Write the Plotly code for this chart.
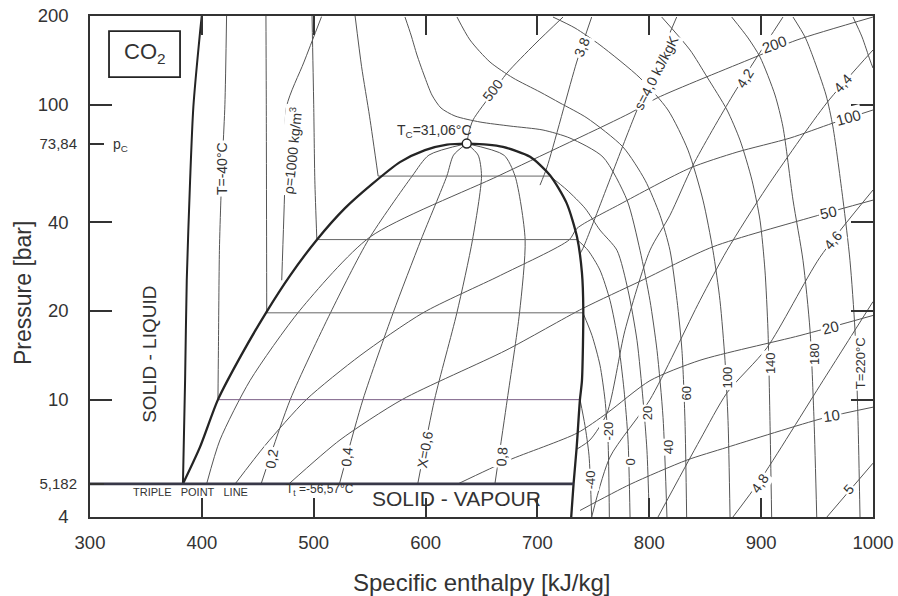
import numpy as np
import plotly.graph_objects as go

# ---------------- saturation dome, melting line, triple line ----------------
liq_h = [383.1, 398.3, 414.4, 435.0, 458.0, 479.0, 502.7, 528.0, 552.1, 577.1, 599.5, 619.2, 636.8]
liq_p = [5.182, 6.9, 10.0, 14.1, 19.9, 26.4, 34.8, 44.6, 53.8, 63.9, 70.2, 73.3, 73.84]
vap_h = [636.8, 654.9, 669.2, 693.4, 711.2, 726.1, 735.4, 739.8, 741.0, 739.8, 738.0, 735.1, 732.3, 730.2]
vap_p = [73.84, 73.3, 72.0, 66.6, 57.7, 46.4, 35.6, 26.9, 20.3, 11.6, 10.0, 6.9, 5.182, 4.0]
melt_h = [383.1, 385.0, 386.5, 389.5, 392.4, 398.3, 399.9]
melt_p = [5.182, 11.6, 25.4, 55.5, 98.4, 175.0, 200.0]
triple_h = [300.0, 732.3]
triple_p = 5.182
crit_h, crit_p = 636.8, 73.84

# two-phase isobars (saturation at -40, -20, 0, 20 °C)
isobar_p = [10.0, 19.7, 34.9, 57.3]
isobar_hl = [414.4, 458.0, 502.8, 557.6]
isobar_hv = [738.0, 741.0, 735.4, 711.0]

# vapour quality lines
quality_p = [5.182, 10.0, 19.7, 34.9, 57.3, 67.5, 73.84]
x02_h = [453, 479, 515, 549, 588, 603, 636.8]
x04_h = [523, 544, 571, 596, 619, 625, 636.8]
x06_h = [593, 608, 628, 642, 650, 647, 636.8]
x08_h = [662, 673, 684, 689, 680, 670, 636.8]

# ---------------- isotherms ----------------
tl40_h = [414.4, 414.8, 415.7, 417.0, 418.8, 420.6, 422.1]
tl40_p = [10.0, 14.7, 32.1, 47.5, 70.2, 100.0, 200.0]
tl20_h = [458.0, 457.6, 457.3]
tl20_p = [19.7, 100.0, 200.0]
tl0_h = [502.8, 501.0, 500.0, 498.5]
tl0_p = [34.9, 55.5, 100.0, 200.0]
t20l_h = [557.6, 550.0, 542.8, 537.0]
t20l_p = [57.3, 91.0, 134.6, 200.0]

tv40_h = [738.1, 742.5, 746.1, 748.5]
tv40_p = [10.0, 8.17, 6.48, 4.0]
tv20_h = [740.7, 748.8, 755.9, 760.4, 763.1, 764.3]
tv20_p = [19.7, 16.5, 13.1, 10.0, 7.3, 4.0]
tv0_h = [735.4, 745.2, 755.9, 764.9, 772.0, 777.4, 781.0, 782.8]
tv0_p = [34.9, 32.1, 27.5, 21.7, 15.9, 10.8, 7.3, 4.0]
t20v_h = [711.2, 726.4, 742.5, 755.9, 771.1, 781.0, 789.0, 794.4, 797.9, 800.0]
t20v_p = [57.3, 51.4, 44.6, 37.6, 32.1, 23.5, 15.9, 10.0, 6.74, 4.0]
t40_h = [581.6, 587.0, 592.3, 598.6, 605.7, 613.8, 626.3, 648.7, 675.5, 705.0, 729.1, 758.6, 780.1, 791.7, 800.6, 806.9, 812.3, 815.8]
t40_p = [198.4, 172.4, 147.5, 126.2, 107.9, 97.5, 91.6, 87.4, 84.7, 82.1, 77.1, 66.5, 47.5, 32.1, 21.7, 14.7, 8.7, 4.0]
t60_h = [628.1, 639.7, 657.6, 678.2, 702.3, 720.2, 744.3, 776.5, 796.2, 809.6, 818.5, 824.8, 829.2, 831.9, 833.4]
t60_p = [198.4, 165.9, 139.6, 123.3, 110.5, 101.4, 90.2, 71.9, 55.5, 42.2, 32.1, 21.7, 14.7, 8.5, 4.0]
t100_h = [713.9, 733.6, 755.9, 791.7, 816.7, 834.6, 848.0, 856.9, 863.2, 867.7, 870.4, 872.2]
t100_p = [198.4, 182.1, 159.5, 123.3, 96.0, 70.2, 47.5, 32.1, 21.7, 13.6, 8.5, 4.0]
t140_h = [811.1, 836.4, 851.6, 869.5, 881.1, 891.8, 899.0, 903.4, 906.1, 907.9, 909.4]
t140_p = [198.4, 153.4, 124.3, 96.0, 75.9, 55.5, 40.6, 27.5, 17.2, 8.5, 4.0]
t180_h = [873.7, 888.3, 899.0, 912.4, 919.5, 928.5, 937.4, 943.7, 947.3, 949.7]
t180_p = [198.4, 168.5, 145.2, 107.9, 84.1, 47.5, 29.7, 17.2, 8.5, 4.0]
t220_h = [928.5, 939.2, 946.4, 958.0, 964.2, 973.2, 979.4, 983.9, 986.6, 988.4]
t220_p = [198.4, 169.8, 145.2, 107.9, 84.1, 47.5, 29.7, 17.2, 8.5, 4.0]
t260_h = [982.1, 990.2, 997.3, 1000.0]
t260_p = [198.4, 169.8, 141.8, 133.2]

# ---------------- isochores ----------------
d1000_h = [471.4, 474.3, 475.8, 491.3, 507.0]
d1000_p = [25.4, 55.5, 98.8, 139.6, 199.0]
d500_h = [636.8, 638.8, 642.4, 660.3, 672.8, 697.8, 722.9]
d500_p = [73.84, 80.7, 88.8, 110.4, 128.1, 160.7, 198.4]
d200_h = [1000.0, 932.1, 892.7, 806.9, 782.8, 666.5, 550.3, 487.7, 443.0, 416.2, 404.3]
d200_p = [198.4, 165.9, 144.1, 105.4, 93.7, 57.7, 35.6, 20.1, 11.6, 7.3, 5.182]
d100_h = [1000.0, 964.2, 925.8, 878.4, 836.4, 773.8, 735.4, 728.3, 667.0, 597.7, 541.4, 493.3, 456.6, 429.8]
d100_p = [96.0, 86.7, 77.1, 69.1, 61.0, 46.0, 38.1, 34.8, 26.4, 19.7, 14.1, 10.0, 7.0, 5.182]
d50_h = [1000.0, 946.4, 857.0, 791.7, 740.7, 671.9, 578.9, 523.5, 477.9]
d50_p = [47.5, 41.7, 33.0, 25.2, 20.4, 14.7, 10.0, 7.3, 5.182]
d20_h = [1000.0, 934.7, 845.3, 800.6, 762.2, 735.4, 674.2, 629.0]
d20_p = [19.3, 16.5, 13.6, 11.6, 9.0, 7.7, 6.23, 5.182]
d10_h = [1000.0, 955.3, 869.5, 833.7, 782.8, 738.1]
d10_p = [9.43, 8.65, 6.89, 6.24, 5.16, 4.21]

# ---------------- isentropes (superheated region) ----------------
s38_h = [748.5, 735.1, 708.6, 702.3]
s38_p = [198.4, 139.6, 61.5, 53.4]
s40_h = [824.5, 787.2, 740.7, 737.5]
s40_p = [198.4, 92.3, 32.6, 31.0]
s42_h = [919.5, 874.8, 839.1, 818.5, 800.6, 778.3, 762.2, 747.0, 735.4]
s42_p = [198.4, 107.9, 62.4, 42.2, 32.1, 17.2, 9.0, 7.3, 6.8]
s44_h = [1000.0, 958.6, 905.2, 869.5, 845.3, 800.6, 764.9, 748.5]
s44_p = [153.4, 101.4, 52.6, 32.1, 21.7, 10.0, 6.39, 4.0]
s46_h = [1000.0, 952.6, 905.2, 869.5, 845.3, 807.8]
s46_p = [51.4, 30.4, 15.0, 10.55, 7.3, 4.0]
s48_h = [1000.0, 955.3, 899.0, 874.8]
s48_p = [21.5, 11.6, 5.33, 4.0]
s50_h = [1000.0, 958.8]
s50_p = [6.09, 4.0]

# ---------------- axis ticks ----------------
x_ticks = [300, 400, 500, 600, 700, 800, 900, 1000]
y_ticks = [4, 10, 20, 40, 100, 200]
y_ticks_small = [5.182, 73.84]
y_ticks_small_text = ["5,182", "73,84"]
y_ticks_right = [10, 20, 40, 100]

THIN = "#555555"
DARK = "#242424"
FONT = "Liberation Sans, Arial, sans-serif"
TXT = "#333333"

fig = go.Figure()


def curve(h, p, color=THIN, width=1.0, smooth=True):
    shape = "spline" if (smooth and len(h) > 2) else "linear"
    fig.add_trace(go.Scatter(x=h, y=p, mode="lines",
                             line=dict(color=color, width=width, shape=shape, smoothing=0.7),
                             hoverinfo="skip", showlegend=False))


# property line families
for h, p in [(tl40_h, tl40_p), (tl20_h, tl20_p), (tl0_h, tl0_p), (t20l_h, t20l_p),
             (tv40_h, tv40_p), (tv20_h, tv20_p), (tv0_h, tv0_p), (t20v_h, t20v_p),
             (t40_h, t40_p), (t60_h, t60_p), (t100_h, t100_p), (t140_h, t140_p),
             (t180_h, t180_p), (t220_h, t220_p), (t260_h, t260_p)]:
    curve(h, p)
for h, p in [(d1000_h, d1000_p), (d500_h, d500_p), (d200_h, d200_p), (d100_h, d100_p),
             (d50_h, d50_p), (d20_h, d20_p), (d10_h, d10_p)]:
    curve(h, p)
for h, p in [(s38_h, s38_p), (s40_h, s40_p), (s42_h, s42_p), (s44_h, s44_p),
             (s46_h, s46_p), (s48_h, s48_p), (s50_h, s50_p)]:
    curve(h, p)
for xh in (x02_h, x04_h, x06_h, x08_h):
    curve(xh, quality_p)
for pb, hl, hv in zip(isobar_p, isobar_hl, isobar_hv):
    curve([hl, hv], [pb, pb], color="#7b5f86" if pb == 10.0 else "#666666", width=1.0)

# dome, melting line, triple line
curve(liq_h, liq_p, DARK, 2.3)
curve(vap_h, vap_p, DARK, 2.3)
curve(melt_h, melt_p, DARK, 2.0)
curve(triple_h, [triple_p, triple_p], "#383848", 2.8)

# critical point
fig.add_trace(go.Scatter(x=[crit_h], y=[crit_p], mode="markers",
                         marker=dict(color="white", size=9, line=dict(color=DARK, width=1.5)),
                         hoverinfo="skip", showlegend=False))

# carriers for the extra y axes
fig.add_trace(go.Scatter(x=[300], y=[10], yaxis="y2", mode="markers", marker=dict(opacity=0),
                         hoverinfo="skip", showlegend=False))
fig.add_trace(go.Scatter(x=[300], y=[10], yaxis="y3", mode="markers", marker=dict(opacity=0),
                         hoverinfo="skip", showlegend=False))


def label(text, h, p, angle=0, size=14, bg=True):
    fig.add_annotation(x=h, y=np.log10(p), xref="x", yref="y", text=text, showarrow=False,
                       textangle=angle, font=dict(family=FONT, size=size, color=TXT),
                       bgcolor="white" if bg else None, borderpad=1)


# curve labels
label("T=-40°C", 418.0, 61.0, -90, 14)
label("ρ=1000 kg/m<sup>3</sup>", 480.6, 70.2, -84, 14)
label("T<sub>C</sub>=31,06°C", 608.4, 81.5, 0, 14, bg=False)
label("500", 660.3, 112.2, -52, 14)
label("3,8", 739.8, 157.0, -68, 14)
label("s=4,0 kJ/kgK", 806.0, 128.1, -63, 14)
label("4,2", 885.6, 123.3, -58, 14)
label("4,4", 973.2, 118.5, -48, 14)
label("4,6", 964.2, 34.8, -50, 14)
label("4,8", 899.0, 5.21, -55, 14)
label("5", 978.5, 4.96, -48, 14)
label("200", 911.5, 159.5, -20, 15)
label("100", 977.7, 90.2, -15, 15)
label("50", 959.8, 43.2, -12, 15)
label("20", 961.6, 17.6, -14, 15)
label("10", 963.3, 8.85, -8, 15)
for txt, h, p in [("-40", 747.0, 5.33), ("-20", 763.1, 7.8), ("0", 782.8, 6.13), ("20", 798.0, 9.0),
                  ("40", 816.7, 6.9), ("60", 832.8, 10.5), ("100", 869.5, 11.9),
                  ("140", 907.9, 13.3), ("180", 948.2, 14.3), ("T=220°C", 988.4, 13.3)]:
    label(txt, h, p, -90, 13)
label("0,2", 462.4, 6.3, -80, 14)
label("0,4", 529.5, 6.4, -85, 14)
label("X=0,6", 599.5, 6.74, -80, 14)
label("0,8", 668.0, 6.4, -85, 14)

label("TRIPLE&nbsp;&nbsp;&nbsp;POINT&nbsp;&nbsp;&nbsp;LINE", 389.4, 4.88, 0, 11, bg=False)
label("T<sub>t</sub> =-56,57°C", 505.6, 4.93, 0, 12, bg=False)
label("SOLID - VAPOUR", 627.2, 4.62, 0, 21, bg=False)
label("SOLID - LIQUID", 353.6, 14.3, -90, 19, bg=False)
label("p<sub>C</sub>", 327.7, 73.3, 0, 14, bg=False)
label("CO<sub>2</sub>", 349.2, 150.0, 0, 22, bg=False)

# framed substance name
fig.add_shape(type="rect", xref="x", yref="paper", x0=317.0, x1=380.5, y0=0.878, y1=0.970,
              line=dict(color=DARK, width=1.8))

# axis titles
fig.add_annotation(x=-0.0856, y=0.447, xref="paper", yref="paper", text="Pressure [bar]",
                   textangle=-90, showarrow=False, xanchor="center", yanchor="middle",
                   font=dict(family=FONT, size=23, color=TXT))
fig.add_annotation(x=0.5, y=-0.13, xref="paper", yref="paper", text="Specific enthalpy [kJ/kg]",
                   showarrow=False, xanchor="center", yanchor="middle",
                   font=dict(family=FONT, size=24, color=TXT))

axis_common = dict(showgrid=False, zeroline=False, ticks="inside", tickwidth=2, tickcolor="#333",
                   linecolor="#333", linewidth=1.6, automargin=False)
extra_y = dict(type="log", range=[np.log10(4), np.log10(200)], overlaying="y", anchor="x",
               showgrid=False, zeroline=False, ticks="inside", tickwidth=2, tickcolor="#333",
               showline=False, automargin=False)
fig.update_layout(
    width=898, height=596, margin=dict(l=90, r=25, t=16, b=79, autoexpand=False),
    paper_bgcolor="white", plot_bgcolor="white",
    xaxis=dict(range=[300, 1000], tickvals=x_ticks, ticklen=19, mirror="ticks", showline=True,
               tickfont=dict(family=FONT, size=18.5, color=TXT), ticklabelstandoff=8, **axis_common),
    yaxis=dict(type="log", range=[np.log10(4), np.log10(200)], tickvals=y_ticks,
               ticktext=[str(v) for v in y_ticks], ticklen=22, mirror=True, showline=True,
               tickfont=dict(family=FONT, size=18.5, color=TXT), ticklabelstandoff=16, **axis_common),
    yaxis2=dict(side="right", tickvals=y_ticks_right, showticklabels=False, ticklen=22, **extra_y),
    yaxis3=dict(side="left", tickvals=y_ticks_small, ticktext=y_ticks_small_text, ticklen=14,
                tickfont=dict(family=FONT, size=15, color=TXT), ticklabelstandoff=12, **extra_y),
)

fig.write_html("out.html")
